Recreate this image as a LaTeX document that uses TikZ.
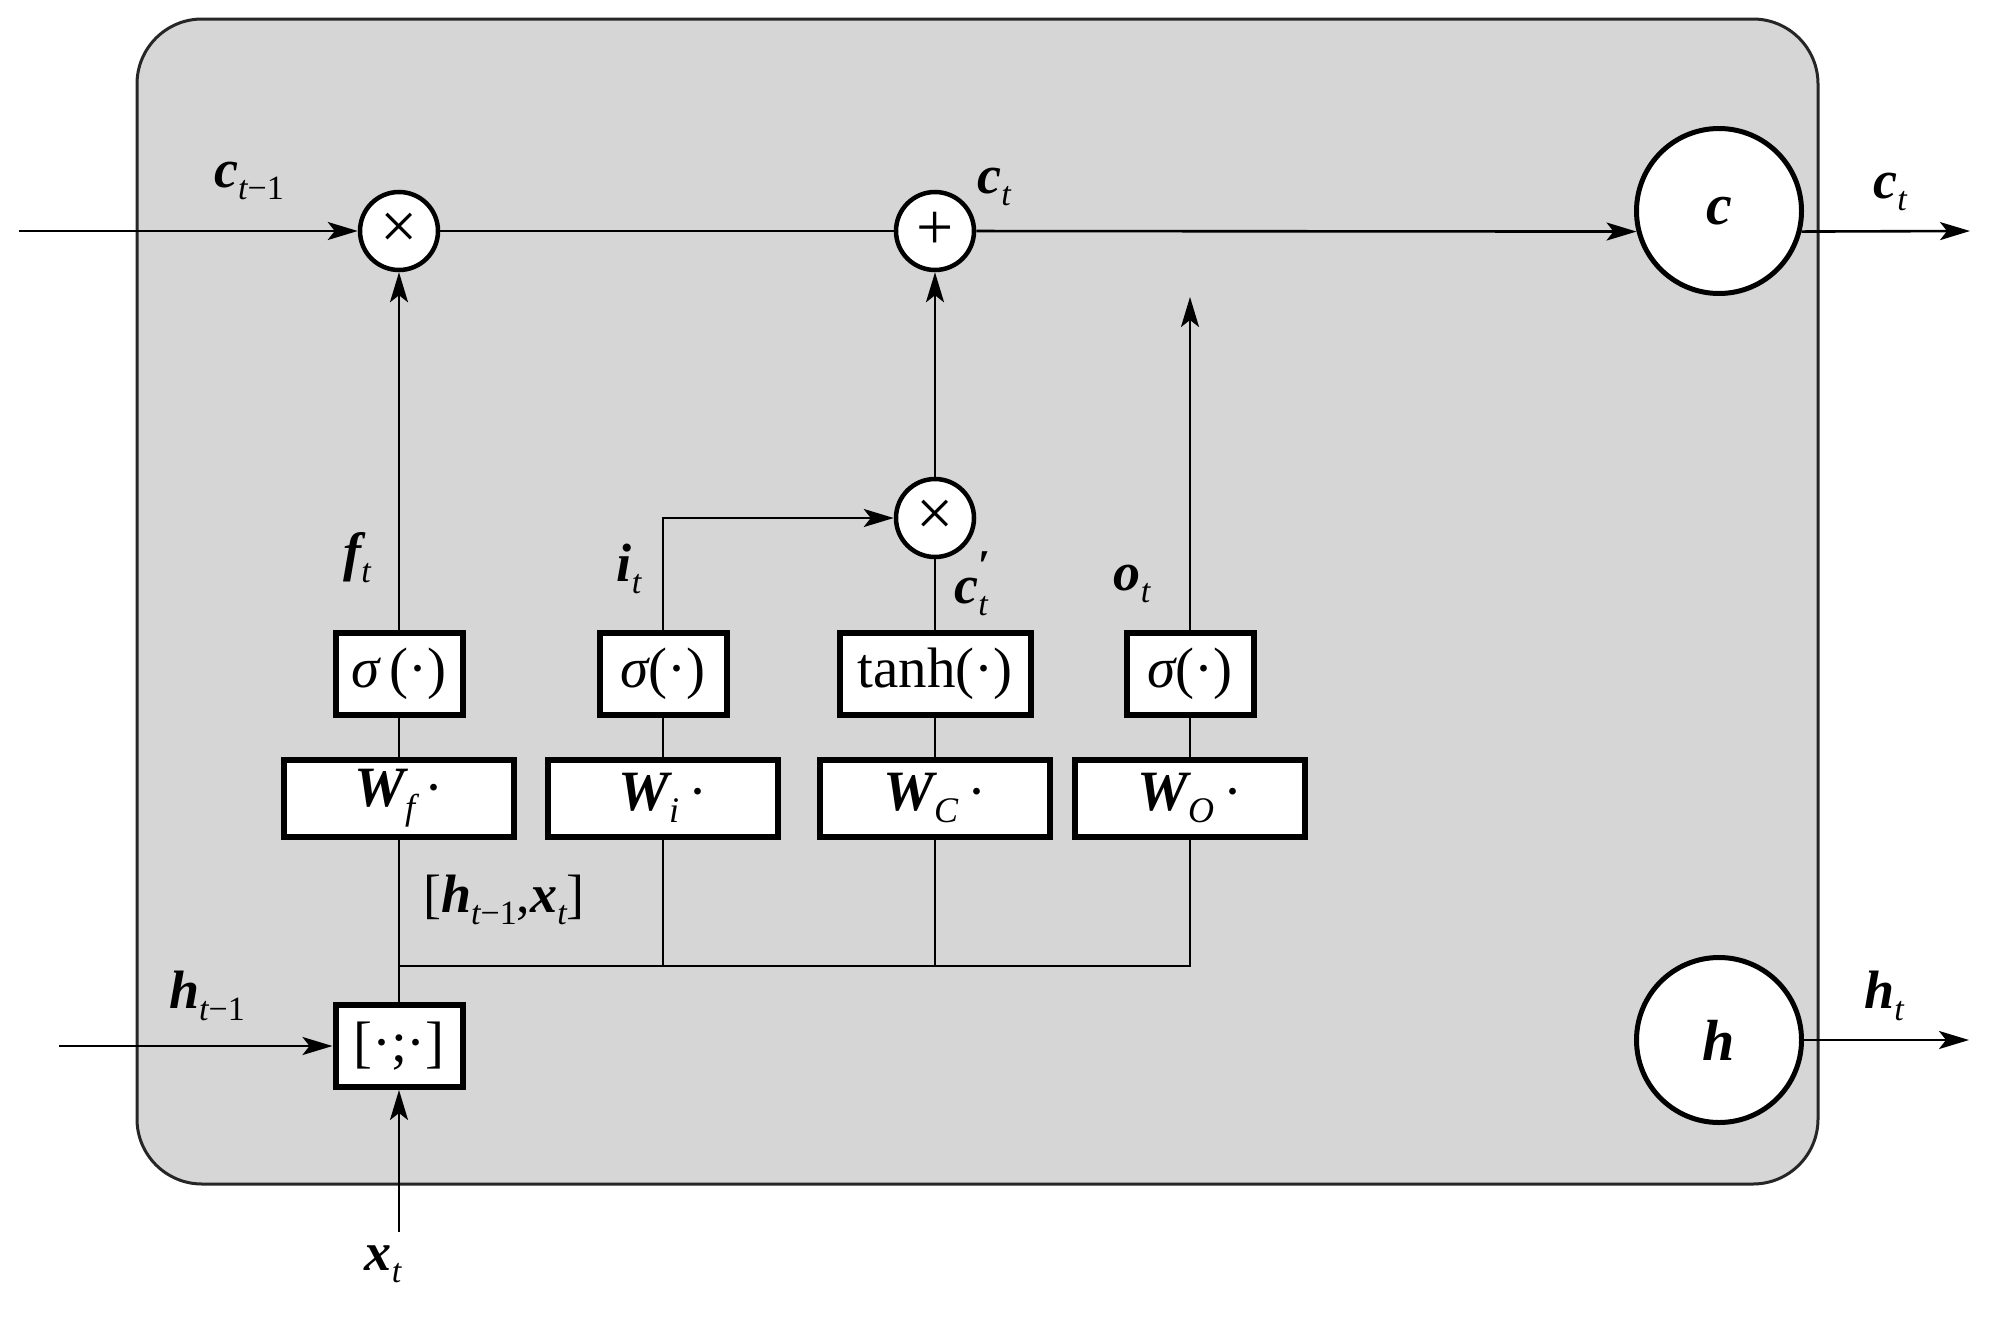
\documentclass[tikz,border=0pt]{standalone}
\usepackage{fontspec}
\setmainfont{Liberation Serif}
\usetikzlibrary{arrows.meta}
\definecolor{cellgray}{RGB}{214,214,214}
\newcommand\bi[1]{{\bfseries\itshape #1}}
\newcommand\sbs[1]{\raisebox{-0.22em}{\fontsize{34}{36}\selectfont #1}}
\newcommand\wsub[1]{\raisebox{-0.22em}{\fontsize{36}{40}\selectfont\itshape #1}}
\newcommand\supsub[2]{\rlap{\raisebox{0.42em}{\fontsize{44}{46}\selectfont\bfseries #1}}\raisebox{-0.22em}{\fontsize{34}{36}\selectfont\itshape #2}}
\begin{document}
\begin{tikzpicture}[x=1pt,y=-1pt,
  lbl/.style={inner sep=0pt, font=\fontsize{54}{58}\selectfont},
  opc/.style={circle, draw, line width=4.5pt, fill=white, minimum size=78pt, inner sep=0pt, font=\fontsize{66}{70}\selectfont},
  stc/.style={circle, draw, line width=5pt, fill=white, minimum size=165pt, inner sep=0pt, font=\fontsize{58}{62}\selectfont\bfseries\itshape},
  fnbox/.style={draw, line width=6pt, fill=white, minimum height=82pt, inner sep=0pt, font=\fontsize{57}{60}\selectfont},
  wbox/.style={draw, line width=6pt, fill=white, minimum width=230pt, minimum height=77pt, inner sep=0pt, font=\fontsize{57}{60}\selectfont},
  conn/.style={line width=2.6pt},
  arr/.style={conn, -{Stealth[length=30pt,width=18pt,inset=7pt]}},
  cellbox/.style={draw=black!85, line width=3pt, fill=cellgray, rounded corners=65pt}
]
\useasboundingbox (0,0) rectangle (1989,1317);
\path[cellbox] (137,19) rectangle (1818,1184);

% coordinates of free ends
\coordinate (cin) at (19,231);
\coordinate (cout) at (1970,231);
\coordinate (hin) at (59,1046);
\coordinate (xin) at (399,1232);
\coordinate (hout) at (1969,1040);
\coordinate (oend) at (1190,297);
\coordinate (bus) at (399,966);

% operation circles
\node[opc] (m1) at (399,231) {×};
\node[opc] (pl) at (935,231) {+};
\node[opc] (m2) at (935,518) {×};
% state circles
\node[stc] (C) at (1719,211) {c};
\node[stc] (H) at (1719,1040) {h};
% activation boxes
\node[fnbox, minimum width=127pt] (s1) at (399,674) {{\itshape σ}\,(·)};
\node[fnbox, minimum width=127pt] (s2) at (663,674) {{\itshape σ}(·)};
\node[fnbox, minimum width=191pt] (th) at (935,674) {tanh(·)};
\node[fnbox, minimum width=127pt] (s4) at (1190,674) {{\itshape σ}(·)};
% weight boxes
\node[wbox] (wf) at (399,798) {\bi{W}\wsub{f}\,·};
\node[wbox] (wi) at (663,798) {\bi{W}\wsub{i}\,·};
\node[wbox] (wc) at (935,798) {\bi{W}\wsub{C}\,·};
\node[wbox] (wo) at (1190,798) {\bi{W}\wsub{O}\,·};
% concat box
\node[fnbox, minimum width=127pt] (cat) at (399,1046) {[·;·]};

% labels
\node[lbl] (lcm1) at (249,181) {\bi{c}\sbs{\itshape t\upshape−1}};
\node[lbl] (lct) at (994,187) {\bi{c}\sbs{\itshape t}};
\node[lbl] (lcto) at (1890,192) {\bi{c}\sbs{\itshape t}};
\node[lbl] (lft) at (357,558) {\bi{f}\sbs{\itshape t}};
\node[lbl] (lit) at (629,569) {\bi{i}\sbs{\itshape t}};
\node[lbl] (lcp) at (971,584) {\bi{c}\supsub{′}{t}};
\node[lbl] (lot) at (1132,584) {\bi{o}\sbs{\itshape t}};
\node[lbl] (lhx) at (504,900) {[\bi{h}\sbs{\itshape t\upshape−1},\bi{x}\sbs{\itshape t}]};
\node[lbl] (lhm1) at (207,996) {\bi{h}\sbs{\itshape t\upshape−1}};
\node[lbl] (lxt) at (383,1264) {\bi{x}\sbs{\itshape t}};
\node[lbl] (lht) at (1884,996) {\bi{h}\sbs{\itshape t}};

% connectors
\draw[arr] (cin) -- (m1);
\draw[conn] (m1) -- (pl);
\draw[arr] (pl) -- (C.194);
\draw[arr] (C.-14) -- (cout);
\draw[arr] (s1) -- (m1);
\draw[conn] (wf) -- (s1);
\draw[conn] (wi) -- (s2);
\draw[conn] (wc) -- (th);
\draw[conn] (wo) -- (s4);
\draw[arr] (s2.north) |- (m2.west);
\draw[conn] (th) -- (m2);
\draw[arr] (m2) -- (pl);
\draw[arr] (s4) -- (oend);
\draw[conn] (cat) -- (wf);
\draw[conn] (bus) -| (wo.south);
\draw[conn] (wi.south) -- (wi.south |- bus);
\draw[conn] (wc.south) -- (wc.south |- bus);
\draw[arr] (hin) -- (cat);
\draw[arr] (xin) -- (cat);
\draw[arr] (H) -- (hout);
\end{tikzpicture}
\end{document}
